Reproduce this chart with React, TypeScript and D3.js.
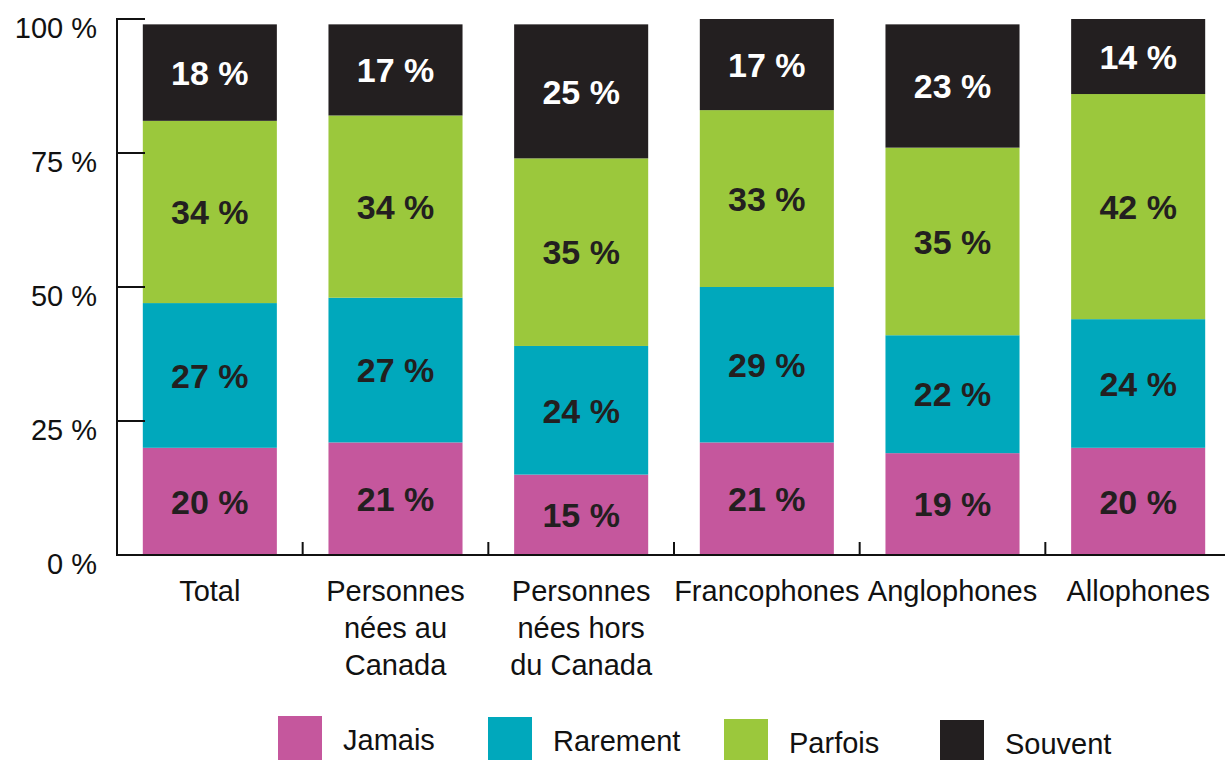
import React, { useRef, useEffect } from 'react'
import * as d3 from 'd3'

const categories = [
	['Total'],
	['Personnes', 'nées au', 'Canada'],
	['Personnes', 'nées hors', 'du Canada'],
	['Francophones'],
	['Anglophones'],
	['Allophones'],
]
const jamais = [20, 21, 15, 21, 19, 20]
const rarement = [27, 27, 24, 29, 22, 24]
const parfois = [34, 34, 35, 33, 35, 42]
const souvent = [18, 17, 25, 17, 23, 14]

const seriesNames = ['Jamais', 'Rarement', 'Parfois', 'Souvent']
const seriesColors = ['#C5579D', '#00A8BC', '#9BC83C', '#231F20']
const yTicks = [0, 25, 50, 75, 100]

const FONT = '"Liberation Sans", Arial, Helvetica, sans-serif'

const App = () => {
	const svgRef = useRef<SVGSVGElement | null>(null)

	const width = 1225,
		height = 760
	const margin = { top: 19, left: 117, bottom: 555, right: 1231 }

	useEffect(() => {
		const svg = d3.select(svgRef.current)
		svg.selectAll('*').remove()

		const rows = categories.map((c, i) => ({
			name: c.join(' '),
			Jamais: jamais[i],
			Rarement: rarement[i],
			Parfois: parfois[i],
			Souvent: souvent[i],
		}))

		const x = d3
			.scaleBand()
			.domain(rows.map((d) => d.name))
			.range([margin.left, margin.right])
			.paddingInner(0.278)
			.paddingOuter(0.139)
		const step = x.step()
		const y = d3.scaleLinear().domain([0, 100]).range([margin.bottom, margin.top])
		const color = d3.scaleOrdinal<string, string>().domain(seriesNames).range(seriesColors)

		const stacked = d3.stack<any>().keys(seriesNames)(rows)

		// bars
		const layers = svg
			.append('g')
			.selectAll('g')
			.data(stacked)
			.enter()
			.append('g')
			.attr('fill', (d) => color(d.key))

		layers
			.selectAll('rect')
			.data((d) => d)
			.enter()
			.append('rect')
			.attr('x', (d) => x(d.data.name)!)
			.attr('width', x.bandwidth())
			.attr('y', (d) => y(d[1]))
			.attr('height', (d) => y(d[0]) - y(d[1]))

		// value labels
		stacked.forEach((layer) => {
			svg
				.append('g')
				.selectAll('text')
				.data(layer)
				.enter()
				.append('text')
				.attr('x', (d) => x(d.data.name)! + x.bandwidth() / 2)
				.attr('y', (d) => (y(d[0]) + y(d[1])) / 2)
				.attr('dy', '0.36em')
				.attr('text-anchor', 'middle')
				.attr('font-family', FONT)
				.attr('font-weight', 'bold')
				.attr('font-size', 34)
				.attr('fill', layer.key === 'Souvent' ? '#ffffff' : '#231F20')
				.text((d) => `${d[1] - d[0]} %`)
		})

		// y axis
		const axis = svg.append('g').attr('stroke', '#111').attr('stroke-width', 2)
		axis
			.append('line')
			.attr('x1', margin.left)
			.attr('x2', margin.left)
			.attr('y1', y(100) - 1)
			.attr('y2', y(0) + 1)
		axis
			.selectAll('.ytick')
			.data(yTicks)
			.enter()
			.append('line')
			.attr('x1', margin.left)
			.attr('x2', margin.left + 28)
			.attr('y1', (d) => y(d))
			.attr('y2', (d) => y(d))

		svg
			.append('g')
			.selectAll('text')
			.data(yTicks)
			.enter()
			.append('text')
			.attr('x', 97)
			.attr('y', (d) => y(d) + 19)
			.attr('text-anchor', 'end')
			.attr('font-family', FONT)
			.attr('font-size', 29)
			.attr('fill', '#111')
			.text((d) => `${d} %`)

		// x axis
		axis
			.append('line')
			.attr('x1', margin.left)
			.attr('x2', width)
			.attr('y1', y(0))
			.attr('y2', y(0))
		axis
			.selectAll('.xtick')
			.data(rows.slice(1))
			.enter()
			.append('line')
			.attr('x1', (d) => x(d.name)! - (step - x.bandwidth()) / 2)
			.attr('x2', (d) => x(d.name)! - (step - x.bandwidth()) / 2)
			.attr('y1', y(0))
			.attr('y2', y(0) - 13)

		// category labels
		const cat = svg
			.append('g')
			.selectAll('text')
			.data(categories)
			.enter()
			.append('text')
			.attr('x', (d) => x(d.join(' '))! + x.bandwidth() / 2)
			.attr('y', 601)
			.attr('text-anchor', 'middle')
			.attr('font-family', FONT)
			.attr('font-size', 29)
			.attr('fill', '#111')
		cat
			.selectAll('tspan')
			.data((d) => d)
			.enter()
			.append('tspan')
			.attr('x', function () {
				return (this as any).parentNode.getAttribute('x')
			})
			.attr('dy', (d, i) => (i === 0 ? 0 : 37))
			.text((d) => d)

		// legend
		const legendX = [278, 488, 724, 940]
		const legendY = [716, 717, 719, 720]
		const leg = svg
			.append('g')
			.selectAll('g')
			.data(seriesNames)
			.enter()
			.append('g')
		leg
			.append('rect')
			.attr('x', (d, i) => legendX[i])
			.attr('y', (d, i) => legendY[i])
			.attr('width', 44)
			.attr('height', 50)
			.attr('fill', (d) => color(d))
		leg
			.append('text')
			.attr('x', (d, i) => legendX[i] + 65)
			.attr('y', (d, i) => legendY[i] + 34)
			.attr('font-family', FONT)
			.attr('font-size', 29)
			.attr('fill', '#111')
			.text((d) => d)
	}, [])

	return (
		<svg
			ref={svgRef}
			width={width}
			height={height}
			style={{ position: 'absolute', left: 0, top: 0, background: '#fff' }}
		></svg>
	)
}

export default App
